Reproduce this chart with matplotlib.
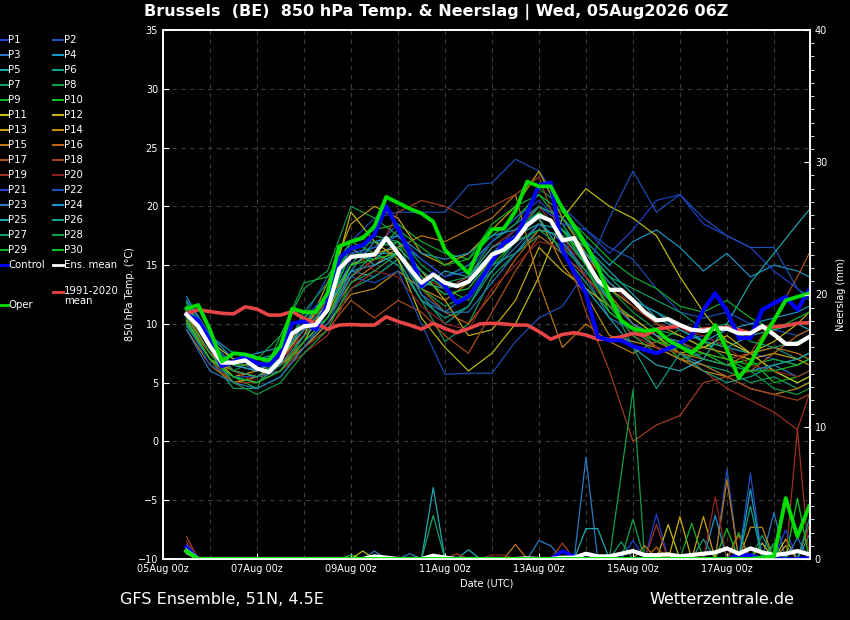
import matplotlib
matplotlib.use("Agg")
import matplotlib.pyplot as plt
import matplotlib.dates as mdates
from matplotlib.lines import Line2D
from matplotlib.ticker import MultipleLocator, FixedLocator
import numpy as np
import pandas as pd

# time axis: 6-hourly steps from 05Aug 12z, members kept at 12-hourly
times = pd.date_range("2026-08-05 12:00", periods=54, freq="6h")
member_steps = list(range(0, 53, 2)) + [53]
member_times = times[member_steps]

ens_mean = [10.8, 9.8, 8.1, 6.7, 6.7, 6.9, 6.2, 5.9, 6.9, 9.2,
            9.8, 9.9, 11.2, 14.7, 15.7, 15.8, 15.9, 17.3, 16.0, 14.7,
            13.5, 14.2, 13.5, 13.2, 13.6, 14.7, 15.9, 16.3, 17.1, 18.4,
            19.2, 18.8, 17.1, 17.3, 15.4, 13.7, 12.9, 12.9, 12.0, 11.0,
            10.3, 10.4, 9.9, 9.5, 9.4, 9.6, 9.6, 9.2, 9.2, 9.8,
            9.1, 8.3, 8.3, 8.9]
clim_mean = [10.9, 11.2, 11.05, 10.9, 10.85, 11.45, 11.25, 10.75, 10.75, 11.05,
             10.45, 10.05, 9.55, 9.9, 9.95, 9.9, 9.9, 10.6, 10.2, 9.9,
             9.55, 10.05, 9.6, 9.25, 9.6, 10.0, 10.05, 10.0, 9.9, 9.9,
             9.35, 8.7, 9.1, 9.25, 9.05, 8.7, 8.7, 8.9, 9.2, 9.0,
             9.55, 9.7, 9.85, 9.4, 9.55, 9.65, 9.7, 9.5, 9.2, 9.7,
             9.75, 9.85, 10.05, 10.1]
control = [10.8, 10.3, 8.6, 6.4, 6.8, 7.2, 6.65, 6.5, 7.5, 10.05,
           10.2, 9.5, 11.75, 15.6, 16.4, 16.7, 17.6, 20.0, 18.1, 16.0,
           13.2, 14.3, 13.2, 11.8, 12.3, 13.7, 15.3, 16.9, 17.3, 19.4,
           21.8, 22.0, 16.3, 14.4, 12.6, 8.9, 8.6, 8.6, 8.1, 7.8,
           7.5, 7.9, 8.35, 9.0, 11.2, 12.6, 11.1, 8.8, 8.8, 11.2,
           11.75, 12.3, 11.2, 12.9]
oper = [11.3, 11.6, 9.5, 6.8, 7.5, 7.4, 7.1, 6.9, 8.1, 11.3,
        11.0, 11.0, 12.6, 16.6, 17.0, 17.3, 18.3, 20.8, 20.3, 19.8,
        19.4, 18.7, 16.3, 15.3, 14.3, 16.6, 18.05, 18.1, 19.6, 22.1,
        21.7, 21.7, 19.8, 18.3, 16.7, 14.9, 12.3, 10.3, 9.6, 9.4,
        9.5, 8.6, 8.1, 7.5, 8.5, 9.9, 7.8, 5.4, 6.65, 8.6,
        10.3, 12.0, 12.3, 12.6]

members = [
    [10.5, 7.5, 6.0, 5.5, 6.5, 9.5, 11.0, 15.5, 16.5, 18.5, 14.0, 12.5, 13.0, 16.0, 18.0, 20.0, 18.5, 15.0, 12.0, 10.5, 9.0, 8.5, 9.0, 8.0, 7.5, 7.0, 6.5, 7.0],
    [11.5, 8.5, 7.0, 6.0, 7.5, 10.5, 14.0, 17.0, 19.0, 19.5, 19.5, 19.5, 21.8, 22.0, 24.0, 23.0, 20.0, 18.0, 16.5, 15.5, 13.0, 11.0, 10.5, 11.0, 10.0, 9.5, 9.0, 9.5],
    [10.0, 7.0, 5.5, 5.0, 6.0, 8.5, 10.5, 14.5, 14.0, 15.5, 12.0, 11.0, 12.5, 14.5, 16.5, 18.5, 17.0, 14.0, 10.5, 9.5, 8.0, 7.5, 6.5, 5.5, 6.0, 6.5, 5.5, 6.0],
    [12.3, 9.0, 7.0, 7.5, 8.0, 10.0, 12.0, 16.0, 15.5, 17.0, 15.5, 14.0, 15.0, 17.0, 18.5, 20.0, 19.0, 17.0, 15.0, 17.0, 18.0, 16.5, 14.5, 16.0, 14.0, 15.0, 14.5, 14.0],
    [11.8, 8.5, 6.5, 6.0, 7.0, 9.5, 12.0, 15.0, 16.0, 16.0, 13.5, 13.0, 14.0, 16.0, 17.5, 18.5, 18.0, 16.5, 14.5, 12.5, 10.5, 9.5, 8.5, 8.0, 9.0, 9.5, 10.0, 9.5],
    [10.2, 7.5, 5.0, 5.5, 6.0, 9.0, 11.5, 15.0, 17.5, 17.0, 12.5, 10.0, 11.5, 15.0, 16.0, 18.0, 17.5, 16.0, 14.0, 12.0, 11.0, 10.0, 8.5, 8.0, 7.5, 8.0, 7.0, 7.5],
    [9.8, 7.0, 4.5, 4.5, 5.5, 8.0, 10.0, 13.0, 14.0, 15.5, 12.0, 8.5, 10.0, 14.0, 16.0, 17.5, 16.0, 13.5, 11.0, 9.5, 8.0, 7.0, 6.5, 6.0, 5.0, 5.5, 4.5, 5.0],
    [11.8, 8.5, 6.0, 7.0, 9.0, 13.0, 14.5, 20.0, 19.0, 17.5, 15.0, 13.5, 14.0, 17.0, 18.5, 21.5, 20.0, 17.0, 13.0, 11.0, 9.5, 9.0, 8.0, 8.5, 7.5, 6.0, 5.0, 5.5],
    [10.5, 7.5, 5.5, 4.5, 9.0, 13.5, 14.0, 17.0, 18.0, 18.5, 17.0, 16.0, 15.5, 17.5, 19.0, 21.0, 18.5, 15.5, 12.5, 10.0, 8.5, 9.5, 8.5, 7.0, 6.5, 7.0, 6.5, 7.0],
    [11.0, 8.0, 6.0, 5.5, 7.0, 10.0, 11.5, 16.0, 16.5, 17.0, 14.5, 13.0, 12.0, 15.0, 17.0, 19.5, 18.0, 15.5, 12.0, 10.5, 9.0, 7.0, 7.5, 6.5, 7.0, 5.0, 5.5, 6.0],
    [10.0, 7.0, 6.0, 5.5, 6.0, 8.5, 12.0, 19.5, 17.0, 15.5, 10.5, 8.0, 6.0, 7.5, 10.0, 14.0, 19.0, 21.5, 20.0, 19.0, 17.5, 14.0, 11.0, 8.5, 7.5, 6.0, 5.0, 5.5],
    [11.5, 8.5, 7.0, 6.5, 7.0, 9.5, 11.0, 15.0, 16.0, 16.5, 14.5, 12.0, 9.0, 9.5, 12.0, 16.5, 14.5, 13.0, 11.5, 10.5, 9.0, 7.5, 8.0, 9.0, 7.5, 8.5, 10.0, 11.0],
    [10.8, 7.5, 5.5, 6.0, 7.0, 9.0, 13.5, 18.5, 20.0, 19.0, 16.0, 15.0, 16.0, 18.0, 20.0, 23.0, 19.0, 16.0, 13.0, 11.5, 10.0, 9.0, 8.0, 7.5, 7.0, 7.5, 7.0, 6.5],
    [10.3, 7.0, 5.0, 5.5, 6.5, 8.0, 10.0, 12.5, 13.0, 14.5, 13.0, 12.0, 13.5, 15.5, 17.5, 19.0, 15.0, 12.5, 9.0, 8.5, 8.0, 7.0, 6.0, 5.5, 4.5, 4.0, 4.5, 5.0],
    [9.5, 6.5, 5.0, 5.5, 6.5, 8.5, 10.5, 13.5, 15.0, 16.5, 17.5, 17.0, 18.0, 19.0, 21.0, 13.5, 8.0, 10.0, 8.5, 7.5, 8.5, 7.5, 7.0, 6.5, 7.5, 8.0, 7.5, 7.0],
    [10.0, 7.5, 6.5, 6.5, 7.5, 10.0, 12.5, 14.0, 15.5, 16.0, 13.0, 11.0, 10.0, 12.5, 15.5, 18.0, 17.5, 15.0, 12.5, 10.0, 8.0, 7.0, 6.5, 5.5, 6.0, 7.5, 9.0, 9.5],
    [10.5, 7.5, 6.0, 5.5, 6.0, 8.0, 9.5, 12.0, 10.5, 12.0, 11.0, 9.0, 7.5, 11.0, 14.5, 17.5, 16.0, 14.0, 12.0, 10.0, 9.0, 8.5, 7.5, 7.0, 7.5, 10.5, 14.0, 16.0],
    [11.0, 8.0, 6.5, 6.0, 7.0, 9.0, 11.0, 14.0, 15.5, 19.5, 20.5, 20.0, 19.0, 20.0, 21.0, 22.5, 17.0, 11.0, 6.0, 0.0, 1.4, 2.2, 5.0, 5.5, 4.5, 4.0, 3.5, 4.0],
    [10.0, 7.0, 5.0, 5.0, 6.0, 7.5, 9.0, 13.0, 14.5, 16.0, 14.0, 13.0, 14.0, 16.5, 18.0, 20.0, 17.5, 14.0, 11.5, 9.0, 8.0, 7.5, 6.0, 4.5, 3.5, 2.5, 1.0, 4.0],
    [10.8, 8.0, 6.0, 5.0, 6.5, 9.5, 12.0, 16.5, 14.5, 14.0, 11.5, 10.0, 9.5, 13.0, 15.0, 17.0, 16.5, 15.5, 13.5, 11.5, 10.0, 9.5, 9.0, 8.0, 6.5, 6.0, 5.5, 6.0],
    [11.2, 8.5, 6.5, 6.0, 7.5, 10.5, 12.5, 16.0, 16.5, 17.5, 15.5, 14.0, 14.5, 17.0, 19.0, 20.5, 18.5, 18.0, 16.0, 18.0, 20.5, 21.0, 18.5, 17.5, 16.5, 14.5, 13.0, 12.0],
    [10.0, 6.5, 5.5, 5.5, 6.0, 8.5, 10.0, 14.0, 13.5, 14.5, 10.0, 5.7, 5.8, 5.8, 8.5, 10.5, 11.5, 14.5, 19.0, 23.0, 19.5, 21.0, 19.0, 17.5, 16.5, 16.5, 13.0, 12.3],
    [9.5, 6.0, 5.0, 4.5, 5.5, 8.0, 10.5, 14.5, 15.0, 16.0, 12.5, 11.0, 11.0, 13.5, 16.0, 18.5, 17.0, 14.5, 12.0, 10.0, 9.0, 8.5, 7.0, 6.5, 6.0, 6.5, 7.0, 7.5],
    [12.0, 9.0, 7.5, 7.0, 7.5, 9.5, 11.5, 14.5, 17.0, 17.5, 16.0, 15.5, 16.0, 17.5, 18.0, 19.5, 18.0, 16.0, 13.5, 12.0, 11.0, 9.5, 8.5, 9.5, 10.0, 10.5, 11.0, 11.5],
    [11.0, 8.0, 6.5, 6.0, 7.0, 10.0, 12.5, 16.5, 15.0, 16.0, 13.0, 14.5, 14.0, 16.5, 17.5, 19.0, 16.0, 13.0, 10.5, 8.0, 6.5, 6.0, 7.0, 10.0, 13.5, 16.0, 18.5, 19.7],
    [10.0, 7.0, 5.5, 5.0, 6.5, 9.0, 10.5, 14.0, 16.0, 15.0, 12.0, 10.5, 11.5, 14.5, 17.0, 18.0, 17.5, 15.0, 12.0, 8.0, 4.5, 7.5, 6.0, 5.0, 5.5, 6.5, 7.0, 7.5],
    [11.5, 8.0, 6.0, 5.5, 7.0, 11.0, 13.5, 16.5, 17.0, 16.5, 14.5, 13.0, 13.5, 16.0, 17.5, 20.0, 19.0, 16.5, 14.0, 13.0, 12.0, 11.0, 9.5, 10.0, 8.5, 8.0, 8.5, 9.0],
    [10.5, 7.5, 5.0, 4.0, 5.0, 7.5, 9.5, 13.5, 14.5, 16.0, 13.0, 11.5, 12.5, 15.5, 17.0, 18.0, 16.5, 14.5, 11.5, 9.0, 7.5, 8.0, 7.0, 6.5, 6.0, 4.5, 4.0, 4.5],
    [11.0, 8.0, 6.5, 6.5, 7.5, 10.5, 12.0, 17.0, 16.0, 18.0, 16.5, 15.0, 15.5, 18.5, 20.0, 21.0, 19.5, 17.5, 15.5, 14.0, 13.0, 11.5, 11.0, 12.0, 10.5, 9.5, 10.5, 11.0],
    [10.2, 7.0, 5.5, 5.0, 6.0, 8.5, 10.5, 15.0, 15.5, 16.0, 14.0, 12.5, 13.0, 15.5, 17.5, 19.5, 18.0, 15.0, 11.0, 9.5, 8.5, 8.0, 7.5, 7.0, 6.0, 6.0, 6.5, 7.0],
]

member_colors = ["#2040d0", "#1a50b8", "#2a78c0", "#1898c8", "#20a8b0",
                 "#10a088", "#10a068", "#10a048", "#10b030", "#10c018",
                 "#c0c010", "#c8b010", "#c8a010", "#c08c10", "#c07810",
                 "#b86410", "#b05018", "#a84020", "#a03020", "#902020"]
member_colors = member_colors + member_colors[:10]

# precipitation (mm, 6-hourly)
mean_precip = [0.6, 0, 0, 0, 0, 0, 0, 0, 0, 0,
               0, 0, 0, 0, 0, 0, 0.2, 0.1, 0, 0,
               0, 0.25, 0.1, 0, 0, 0, 0, 0, 0, 0.05,
               0, 0, 0.1, 0.1, 0.4, 0.2, 0.2, 0.4, 0.6, 0.3,
               0.3, 0.35, 0.2, 0.3, 0.4, 0.5, 0.8, 0.4, 0.8, 0.5,
               0.3, 0.4, 0.6, 0.35]
control_precip_events = [(0, 0.9), (32, 0.6), (33, 0.2), (47, 0.3), (48, 0.3), (53, 0.1)]
oper_precip_events = [(0, 0.6), (49, 0.1), (50, 0.2), (51, 4.6), (52, 1.7), (53, 4.0)]
# (member number, 6h step, mm)
member_precip_events = [
    (1, 0, 0.9), (3, 0, 0.8), (5, 0, 0.6), (7, 0, 0.5), (9, 0, 0.5), (11, 0, 0.4),
    (13, 0, 0.6), (15, 0, 0.7), (17, 0, 1.0), (18, 0, 1.7), (19, 0, 1.3), (20, 0, 1.1),
    (21, 0, 1.1), (23, 0, 0.7), (25, 0, 0.5), (27, 0, 0.4), (29, 0, 0.5),
    (9, 14, 0.3), (11, 15, 0.6), (3, 16, 0.6), (23, 19, 0.4), (25, 21, 5.4), (27, 21, 3.3),
    (18, 23, 0.4), (5, 24, 0.7), (20, 26, 0.3), (20, 27, 0.3), (15, 28, 1.1), (3, 30, 1.4),
    (3, 31, 1.0), (18, 32, 1.2), (23, 34, 7.7), (25, 34, 2.3), (25, 35, 2.3), (8, 37, 6.4),
    (8, 38, 12.8), (28, 38, 3.0), (27, 37, 1.3), (21, 38, 1.4), (14, 39, 1.0), (16, 40, 0.9),
    (1, 40, 3.4), (19, 40, 2.6), (11, 41, 2.6), (12, 42, 3.2), (29, 43, 2.7), (13, 44, 3.2),
    (6, 44, 1.5), (20, 45, 4.7), (4, 45, 3.3), (2, 46, 6.8), (15, 46, 6.0), (10, 46, 2.3),
    (9, 47, 2.0), (16, 47, 1.8), (22, 48, 6.5), (24, 48, 5.3), (26, 48, 4.0), (14, 48, 2.4),
    (14, 49, 2.4), (27, 49, 1.8), (11, 49, 1.2), (3, 50, 3.5), (7, 50, 1.2), (28, 50, 1.0),
    (12, 51, 1.5), (21, 51, 2.2), (13, 51, 1.0), (19, 52, 9.8), (30, 52, 4.6), (23, 52, 1.6),
    (5, 53, 1.8), (17, 53, 2.5), (26, 53, 3.0),
]

tick_dates = pd.date_range("2026-08-05", "2026-08-17", freq="2D")
grid_dates = pd.date_range("2026-08-05", "2026-08-18", freq="1D")


def events_to_series(events):
    s = np.zeros(len(times))
    for step, val in events:
        s[step] = val
    return s


W, H = 850, 620
fig = plt.figure(figsize=(W / 100, H / 100), dpi=100, facecolor="black")
ax = fig.add_axes([163 / W, 61 / H, 647 / W, 529 / H])
ax.set_facecolor("black")
ax2 = ax.twinx()

for m, c in zip(members, member_colors):
    ax.plot(member_times, m, color=c, lw=0.85)
ax.plot(times, clim_mean, color="#e84646", lw=2.6)
ax.plot(times, control, color="#0000ff", lw=3.0)
ax.plot(times, ens_mean, color="white", lw=3.0)
ax.plot(times, oper, color="#00dd00", lw=2.8)

for n, c in enumerate(member_colors, start=1):
    pr = events_to_series([(s, v) for (mm, s, v) in member_precip_events if mm == n])
    ax2.plot(times, pr, color=c, lw=0.9)
ax2.plot(times, events_to_series(control_precip_events), color="#0000ff", lw=2.6)
ax2.plot(times, mean_precip, color="white", lw=3.0)
ax2.plot(times, events_to_series(oper_precip_events), color="#00dd00", lw=2.8)

ax.set_xlim(pd.Timestamp("2026-08-05 00:00"), pd.Timestamp("2026-08-18 18:25"))
ax.set_ylim(-10, 35)
ax2.set_ylim(0, 40)

ax.xaxis.set_major_locator(FixedLocator(mdates.date2num(tick_dates)))
ax.xaxis.set_minor_locator(FixedLocator(mdates.date2num(grid_dates)))
ax.xaxis.set_major_formatter(mdates.DateFormatter("%d%b %Hz"))
ax.set_yticks(range(-10, 36, 5))
ax2.set_yticks([0, 10, 20, 30, 40])
ax2.yaxis.set_minor_locator(MultipleLocator(1))

ax.grid(which="both", axis="x", color="#3c3c3c", ls=(0, (4, 4)), lw=0.8)
ax.grid(which="major", axis="y", color="#3c3c3c", ls=(0, (4, 4)), lw=0.8)
ax.set_axisbelow(True)

for a in (ax, ax2):
    for sp in a.spines.values():
        sp.set_color("white")
        sp.set_linewidth(1.2)
    a.tick_params(colors="white", labelcolor="white", direction="in", labelsize=7, length=4)
ax.tick_params(which="minor", length=0)
ax2.tick_params(which="minor", length=3, color="white")

ax.set_xlabel("Date (UTC)", color="white", fontsize=7, labelpad=3)
ax.set_ylabel("850 hPa Temp. (\u00b0C)", color="white", fontsize=7, labelpad=2)
ax2.set_ylabel("Neerslag (mm)", color="white", fontsize=7, labelpad=6)

fig.text(436 / W, 1 - 12 / H, "Brussels  (BE)  850 hPa Temp. & Neerslag | Wed, 05Aug2026 06Z",
         color="white", fontsize=11.5, fontweight="bold", ha="center", va="center")
fig.text(120 / W, 1 - 599 / H, "GFS Ensemble, 51N, 4.5E", color="white", fontsize=11.5,
         ha="left", va="center")
fig.text(794 / W, 1 - 599 / H, "Wetterzentrale.de", color="white", fontsize=11.5,
         ha="right", va="center")

# legend, drawn by hand in two columns
names = ["P%d" % n for n in range(1, 31)]
for k, (name, c) in enumerate(zip(names, member_colors)):
    row, col = divmod(k, 2)
    y = 1 - (40 + 15 * row) / H
    hx0, hx1, tx = (0, 8, 8) if col == 0 else (53, 63, 64)
    fig.add_artist(Line2D([hx0 / W, hx1 / W], [y, y], color=c, lw=1.5, transform=fig.transFigure))
    fig.text(tx / W, y, name, color="white", fontsize=7.3, va="center")

extra = [(0, 8, 8, 265, "Control", "#0000ff"),
         (53, 63, 64, 265, "Ens. mean", "white"),
         (53, 63, 64, 292, "1991-2020\nmean", "#e84646"),
         (0, 8, 8, 305, "Oper", "#00dd00")]
for hx0, hx1, tx, yp, name, c in extra:
    y = 1 - yp / H
    fig.add_artist(Line2D([hx0 / W, hx1 / W], [y, y], color=c, lw=2, transform=fig.transFigure))
    if "\n" in name:
        fig.text(tx / W, y + 6 / H, name, color="white", fontsize=7.3, va="top", linespacing=0.95)
    else:
        fig.text(tx / W, y, name, color="white", fontsize=7.3, va="center")

fig.savefig("out.png", dpi=100, facecolor="black")
